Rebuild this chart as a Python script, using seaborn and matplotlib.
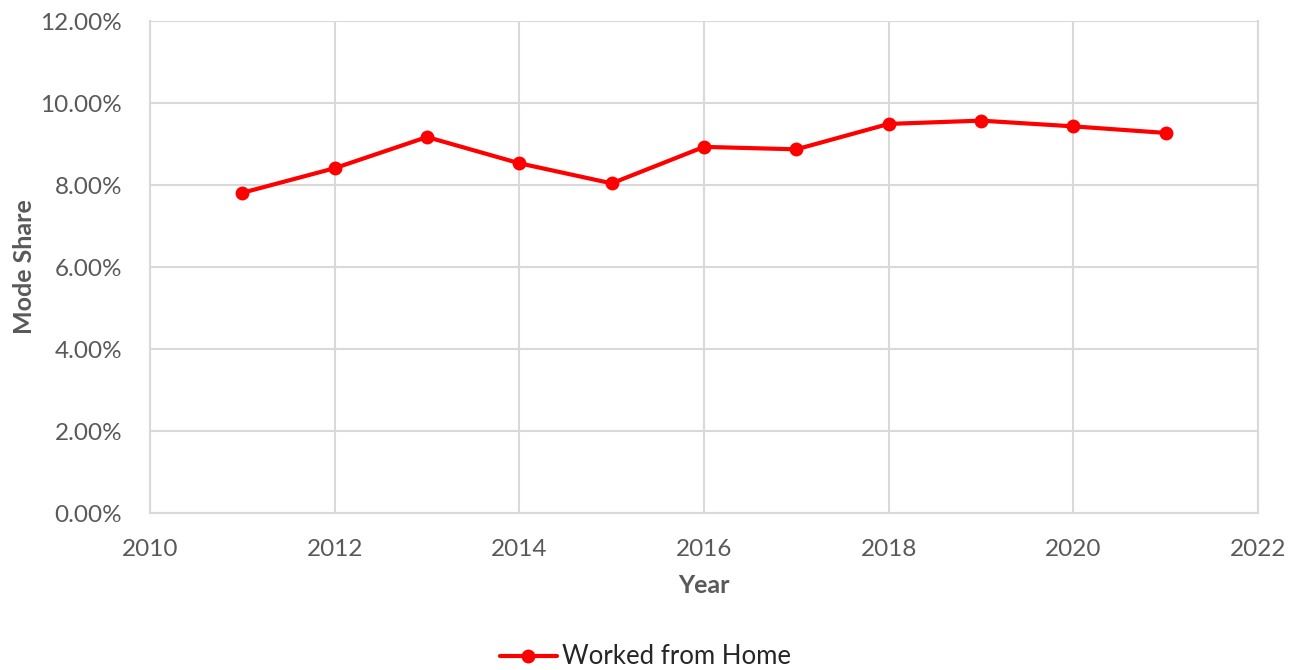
import matplotlib
matplotlib.use("Agg")
import matplotlib.pyplot as plt
import matplotlib.ticker as mticker
import seaborn as sns
import pandas as pd

years = [2011, 2012, 2013, 2014, 2015, 2016, 2017, 2018, 2019, 2020, 2021]
wfh_share = [7.81, 8.41, 9.17, 8.53, 8.04, 8.93, 8.87, 9.49, 9.57, 9.43, 9.27]
series_name = "Worked from Home"
x_ticks = [2010, 2012, 2014, 2016, 2018, 2020, 2022]
y_ticks = [0, 2, 4, 6, 8, 10, 12]

df = pd.DataFrame({"Year": years, "Share": wfh_share, "Series": series_name})

sns.set_theme(style="white")
plt.rcParams["font.family"] = ["Lato", "DejaVu Sans"]

fig = plt.figure(figsize=(12.91, 6.70), dpi=100)
ax = fig.add_axes([150 / 1291, 1 - 513 / 670, 1108 / 1291, 492 / 670])

sns.lineplot(data=df, x="Year", y="Share", hue="Series", palette=["#ff0000"],
             marker="o", markersize=10, markeredgewidth=0, linewidth=3,
             ax=ax, legend=False, zorder=3)

ax.set_xlim(2010, 2022)
ax.set_ylim(0, 12)
ax.set_xticks(x_ticks)
ax.set_yticks(y_ticks)
ax.yaxis.set_major_formatter(mticker.FuncFormatter(lambda v, p: f"{v:.2f}%"))
ax.grid(True, color="#d9d9d9", linewidth=1.5)
for s in ax.spines.values():
    s.set_color("#d9d9d9")
    s.set_linewidth(1.5)
ax.spines["top"].set_visible(False)
ax.tick_params(axis="both", length=0, labelsize=17.5, labelcolor="#595959")
ax.tick_params(axis="x", pad=19)
ax.tick_params(axis="y", pad=20)

ax.set_xlabel("Year", fontsize=18, fontweight="bold", color="#595959", labelpad=10)
ax.set_ylabel("Mode Share", fontsize=18, fontweight="bold", color="#595959", labelpad=3)

handle = plt.Line2D([], [], color="#ff0000", linewidth=3, marker="o",
                    markersize=10, markeredgewidth=0)
fig.legend([handle], [series_name], loc="center", bbox_to_anchor=(0.5, 1 - 657 / 670),
           frameon=False, fontsize=18.5, handlelength=2.2, handletextpad=0.2)

fig.savefig("out.png", dpi=100)
